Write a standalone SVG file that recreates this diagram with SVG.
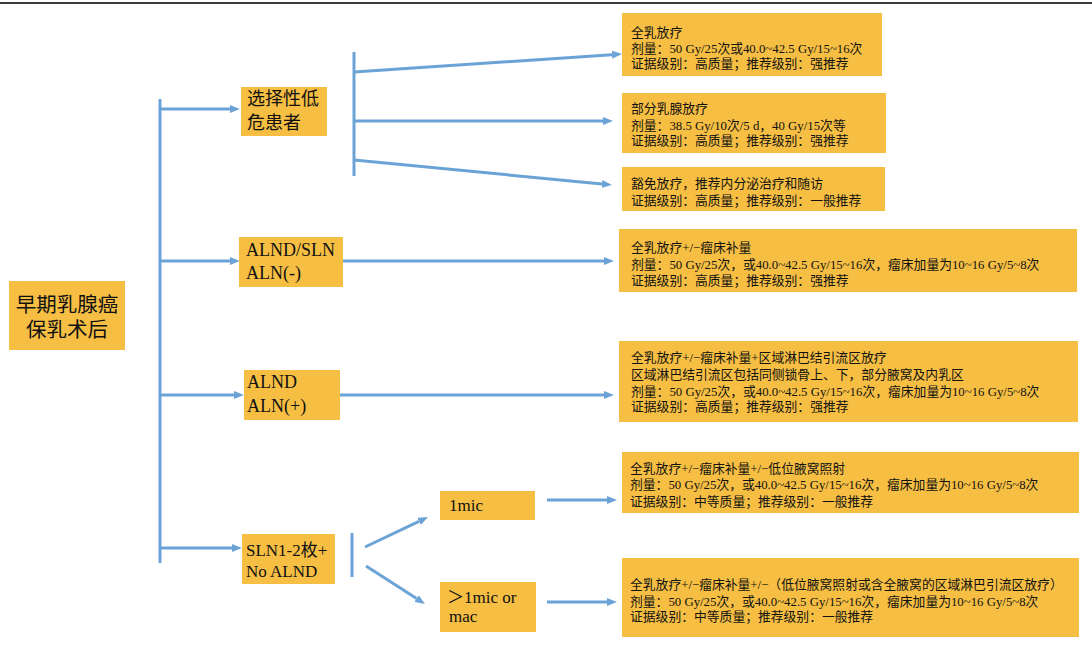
<svg xmlns="http://www.w3.org/2000/svg" width="1092" height="660" viewBox="0 0 1092 660">
<style>
.box{fill:#F6BF44;}
.t{font-family:"Liberation Serif","Noto Sans CJK SC",serif;fill:#111;}
.s{font-size:12.8px;}
.ln{stroke:#6CA3D7;stroke-width:3;fill:none;}
</style>
<defs>
<marker id="ah" viewBox="0 0 10 8" markerWidth="10" markerHeight="8" refX="0" refY="4" orient="auto" markerUnits="userSpaceOnUse">
<path d="M0,0 L10,4 L0,8 z" fill="#6CA3D7"/>
</marker>
</defs>
<rect width="1092" height="660" fill="#fff"/>
<line x1="0" y1="3" x2="1092" y2="3" stroke="#3a3a3a" stroke-width="1.8"/>

<g id="connectors">
<line class="ln" x1="160" y1="99" x2="160" y2="563"/>
<line class="ln" x1="160" y1="109" x2="230" y2="109" marker-end="url(#ah)"/>
<line class="ln" x1="160" y1="261" x2="230" y2="261" marker-end="url(#ah)"/>
<line class="ln" x1="160" y1="395" x2="234" y2="395" marker-end="url(#ah)"/>
<line class="ln" x1="160" y1="548" x2="232" y2="548" marker-end="url(#ah)"/>
<line class="ln" x1="354" y1="52" x2="354" y2="176"/>
<line class="ln" x1="354" y1="72" x2="612" y2="54.7" marker-end="url(#ah)"/>
<line class="ln" x1="354" y1="121" x2="603" y2="121" marker-end="url(#ah)"/>
<line class="ln" x1="354" y1="160" x2="602" y2="184" marker-end="url(#ah)"/>
<line class="ln" x1="343" y1="261" x2="604" y2="261" marker-end="url(#ah)"/>
<line class="ln" x1="340" y1="395" x2="604" y2="395" marker-end="url(#ah)"/>
<line class="ln" x1="352" y1="533" x2="352" y2="577"/>
<line class="ln" x1="365" y1="547" x2="419" y2="521.3" marker-end="url(#ah)"/>
<line class="ln" x1="366" y1="566" x2="416.6" y2="598.6" marker-end="url(#ah)"/>
<line class="ln" x1="547" y1="500" x2="607" y2="500" marker-end="url(#ah)"/>
<line class="ln" x1="547" y1="602" x2="607" y2="602" marker-end="url(#ah)"/>
</g>

<g id="root">
<rect class="box" x="9" y="281" width="116" height="69"/>
<text class="t" x="67" y="312" font-size="20.5" text-anchor="middle">早期乳腺癌</text>
<text class="t" x="67" y="337" font-size="20.5" text-anchor="middle">保乳术后</text>
</g>

<g id="lowrisk">
<rect class="box" x="241" y="87" width="86" height="49"/>
<text class="t" x="247" y="105" font-size="18">选择性低</text>
<text class="t" x="247" y="129" font-size="18">危患者</text>
</g>

<g id="alnneg">
<rect class="box" x="239" y="237" width="104" height="50"/>
<text class="t" x="246" y="256" font-size="18">ALND/SLN</text>
<text class="t" x="246" y="279" font-size="18">ALN(-)</text>
</g>

<g id="alnpos">
<rect class="box" x="244" y="370" width="96" height="50"/>
<text class="t" x="247" y="388" font-size="18">ALND</text>
<text class="t" x="247" y="412" font-size="18">ALN(+)</text>
</g>

<g id="sln">
<rect class="box" x="242" y="534" width="93" height="50"/>
<text class="t" x="246" y="556" font-size="17">SLN1-2枚+</text>
<text class="t" x="246" y="577" font-size="17">No ALND</text>
</g>

<g id="onemic">
<rect class="box" x="440" y="491" width="95" height="29"/>
<text class="t" x="449" y="511" font-size="17">1mic</text>
</g>

<g id="gtonemic">
<rect class="box" x="440" y="582" width="96" height="50"/>
<text class="t" x="447" y="603" font-size="17">＞1mic or</text>
<text class="t" x="449" y="622" font-size="17">mac</text>
</g>

<g id="wbi">
<rect class="box" x="622" y="13" width="260" height="63"/>
<text class="t s" x="631" y="37">全乳放疗</text>
<text class="t s" x="631" y="53">剂量：50 Gy/25次或40.0~42.5 Gy/15~16次</text>
<text class="t s" x="631" y="68">证据级别：高质量；推荐级别：强推荐</text>
</g>

<g id="pbi">
<rect class="box" x="622" y="93" width="264" height="60"/>
<text class="t s" x="631" y="113">部分乳腺放疗</text>
<text class="t s" x="631" y="130">剂量：38.5 Gy/10次/5 d，40 Gy/15次等</text>
<text class="t s" x="631" y="145">证据级别：高质量；推荐级别：强推荐</text>
</g>

<g id="omit">
<rect class="box" x="622" y="167" width="263" height="44"/>
<text class="t s" x="631" y="188">豁免放疗，推荐内分泌治疗和随访</text>
<text class="t s" x="631" y="205">证据级别：高质量；推荐级别：一般推荐</text>
</g>

<g id="wbiboost">
<rect class="box" x="619" y="229" width="458" height="63"/>
<text class="t s" x="631" y="252">全乳放疗+/−瘤床补量</text>
<text class="t s" x="631" y="269">剂量：50 Gy/25次，或40.0~42.5 Gy/15~16次，瘤床加量为10~16 Gy/5~8次</text>
<text class="t s" x="631" y="285">证据级别：高质量；推荐级别：强推荐</text>
</g>

<g id="rni">
<rect class="box" x="619" y="341" width="459" height="81"/>
<text class="t s" x="631" y="362">全乳放疗+/−瘤床补量+区域淋巴结引流区放疗</text>
<text class="t s" x="631" y="379">区域淋巴结引流区包括同侧锁骨上、下，部分腋窝及内乳区</text>
<text class="t s" x="631" y="396">剂量：50 Gy/25次，或40.0~42.5 Gy/15~16次，瘤床加量为10~16 Gy/5~8次</text>
<text class="t s" x="631" y="411">证据级别：高质量；推荐级别：强推荐</text>
</g>

<g id="lowaxilla">
<rect class="box" x="622" y="452" width="457" height="61"/>
<text class="t s" x="630" y="473">全乳放疗+/−瘤床补量+/−低位腋窝照射</text>
<text class="t s" x="630" y="489">剂量：50 Gy/25次，或40.0~42.5 Gy/15~16次，瘤床加量为10~16 Gy/5~8次</text>
<text class="t s" x="630" y="506">证据级别：中等质量；推荐级别：一般推荐</text>
</g>

<g id="fullaxilla">
<rect class="box" x="622" y="558" width="457" height="79"/>
<text class="t s" x="630" y="589">全乳放疗+/−瘤床补量+/−（低位腋窝照射或含全腋窝的区域淋巴引流区放疗）</text>
<text class="t s" x="630" y="606">剂量：50 Gy/25次，或40.0~42.5 Gy/15~16次，瘤床加量为10~16 Gy/5~8次</text>
<text class="t s" x="630" y="621">证据级别：中等质量；推荐级别：一般推荐</text>
</g>
</svg>
